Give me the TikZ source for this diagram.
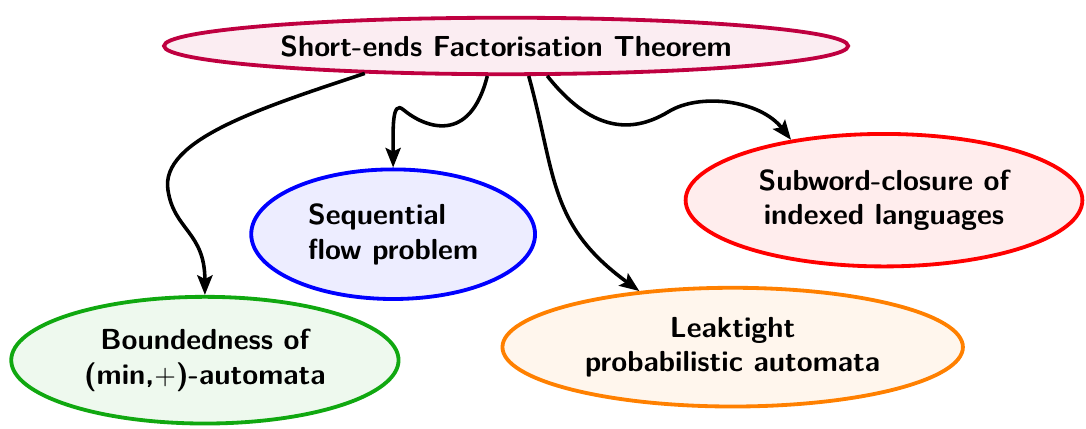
\documentclass[tikz,border=0pt]{standalone}
\usetikzlibrary{arrows.meta, shapes.geometric}
\definecolor{cgreen}{HTML}{10A810}
\tikzset{
  every picture/.style={font=\sffamily\bfseries\fontsize{11.4pt}{13.6pt}\selectfont},
  topic/.style={ellipse, draw=#1, fill=#1!7, line width=1.5pt, align=center, inner sep=0pt},
  link/.style={-{Stealth[length=2.7mm, width=2.1mm, inset=0.5mm]}, line width=1.4pt},
}
\begin{document}
\begin{tikzpicture}
  \useasboundingbox (0,0) rectangle (15,5.925);
  % the theorem and its applications
  \node[topic=purple, minimum width=9.45cm, minimum height=0.78cm] (thm) at (6.99,5.29) {Short-ends Factorisation Theorem};
  \node[topic=blue, minimum width=3.92cm, minimum height=1.79cm, align=left] (seq) at (5.43,2.69) {Sequential\\flow problem};
  \node[topic=red, minimum width=5.48cm, minimum height=1.83cm] (sub) at (12.21,3.16) {Subword-closure of\\indexed languages};
  \node[topic=cgreen, minimum width=5.35cm, minimum height=1.75cm] (bnd) at (2.83,0.95) {Boundedness of\\(min,$+$)-automata};
  \node[topic=orange, minimum width=6.36cm, minimum height=1.64cm] (leak) at (10.12,1.13) {Leaktight\\probabilistic automata};
  % links
  \draw[link] (thm.-169) .. controls (3.59,4.43) and (2.21,3.99) .. (2.32,3.30)
    .. controls (2.40,2.75) and (2.83,2.72) .. (bnd.north);
  \draw[link] (thm.-122) .. controls (6.49,3.92) and (5.87,4.16) .. (5.57,4.41)
    .. controls (5.41,4.55) and (5.43,4.13) .. (seq.north);
  \draw[link] (thm.-53) .. controls (7.68,3.51) and (7.57,2.82) .. (leak.149);
  \draw[link] (thm.-36) .. controls (8.15,4.13) and (8.70,4.06) .. (9.23,4.38)
    .. controls (9.67,4.65) and (10.50,4.54) .. (sub.147);
\end{tikzpicture}
\end{document}
